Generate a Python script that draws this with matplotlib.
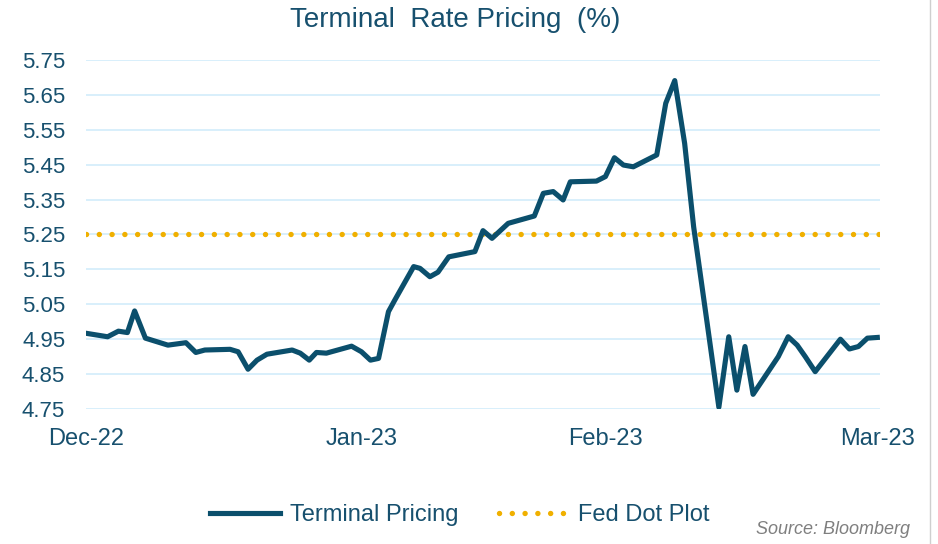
import matplotlib
matplotlib.use("Agg")
import matplotlib.pyplot as plt
from matplotlib.lines import Line2D

plt.rcParams['font.family'] = ['Liberation Sans', 'DejaVu Sans']

# Trading-day position of each reading (0 = start of Dec-22)
days = [0, 2.4, 3.6, 4.6, 5.4, 6.6, 9.1, 11.1, 12.2, 13.2,
        16, 16.9, 18, 19, 20.1, 22.9, 23.8, 24.8, 25.6, 26.7,
        29.5, 30.6, 31.6, 32.5, 33.6, 34.3, 36.4, 37.1, 38.2, 39.1, 40.3,
        43.2, 44.1, 45.1, 46.9, 49.8, 50.8, 51.9, 53, 53.8,
        56.7, 57.7, 58.7, 59.7, 60.8, 63.4, 64.4, 65.4, 66.5,
        67.5, 69, 70.3, 71.4, 72.3, 73.2, 74.1,
        76.9, 78, 79, 79.9, 81, 83.8, 84.8, 85.8, 86.8, 87.9]

# Terminal rate pricing (%)
terminal = [4.967, 4.957, 4.973, 4.969, 5.031, 4.953, 4.933, 4.94, 4.912, 4.919,
            4.921, 4.914, 4.864, 4.89, 4.907, 4.919, 4.91, 4.89, 4.912, 4.91,
            4.93, 4.914, 4.89, 4.895, 5.029, 5.062, 5.158, 5.153, 5.129, 5.142, 5.186,
            5.201, 5.261, 5.239, 5.282, 5.303, 5.368, 5.373, 5.349, 5.401,
            5.403, 5.416, 5.47, 5.449, 5.444, 5.478, 5.626, 5.691, 5.511,
            5.272, 4.996, 4.755, 4.957, 4.804, 4.929, 4.792,
            4.9, 4.957, 4.933, 4.9, 4.857, 4.95, 4.922, 4.929, 4.953, 4.955]

fed_dot = 5.25

month_pos = [0, 30.6, 57.7, 87.9]
month_labels = ["Dec-22", "Jan-23", "Feb-23", "Mar-23"]
y_ticks = [4.75, 4.85, 4.95, 5.05, 5.15, 5.25, 5.35, 5.45, 5.55, 5.65, 5.75]

text_col = "#17506e"
line_col = "#0b4f6c"
dot_col = "#f0b000"
grid_col = "#d5eefb"

fig = plt.figure(figsize=(9.38, 5.44), dpi=100)
ax = fig.add_axes([86 / 938, 1 - 409 / 544, (880 - 86) / 938, (409 - 60) / 544])

# Gridlines
for yv in y_ticks:
    ax.axhline(yv, color=grid_col, lw=1.3, zorder=0)

ax.axhline(fed_dot, color=dot_col, lw=3.9, linestyle=(0, (0.01, 2.35)),
           dash_capstyle="round", zorder=2, label="Fed Dot Plot")
ax.plot(days, terminal, color=line_col, lw=3.7, solid_joinstyle="round",
        zorder=3, label="Terminal Pricing")

ax.set_xlim(0, 88.2)
ax.set_ylim(4.75, 5.75)
ax.set_yticks(y_ticks)
ax.set_yticklabels([f"{v:.2f}" for v in y_ticks])
ax.set_xticks(month_pos)
ax.set_xticklabels(month_labels)
ax.tick_params(axis="y", length=0, pad=15, labelsize=16, labelcolor=text_col)
ax.tick_params(axis="x", length=0, pad=14, labelsize=17, labelcolor=text_col)
for s in ax.spines.values():
    s.set_visible(False)

fig.text(455 / 938, 1 - 20 / 544, "Terminal  Rate Pricing  (%)", ha="center", va="center",
         fontsize=20, color=text_col)

handles, labels = ax.get_legend_handles_labels()
order = [1, 0]
fig.legend([handles[i] for i in order], [labels[i] for i in order],
           loc="center", bbox_to_anchor=(460 / 938, 1 - 515 / 544), ncol=2,
           frameon=False, fontsize=17, labelcolor=text_col,
           handlelength=2.95, handletextpad=0.42, columnspacing=1.7)

fig.text(910 / 938, 1 - 530 / 544, "Source: Bloomberg", ha="right", va="center",
         fontsize=13, style="italic", color="#7f7f7f")

fig.add_artist(Line2D([930 / 938, 930 / 938], [0, 1], color="#cfcfcf", lw=1))

fig.savefig("out.png", dpi=100)
